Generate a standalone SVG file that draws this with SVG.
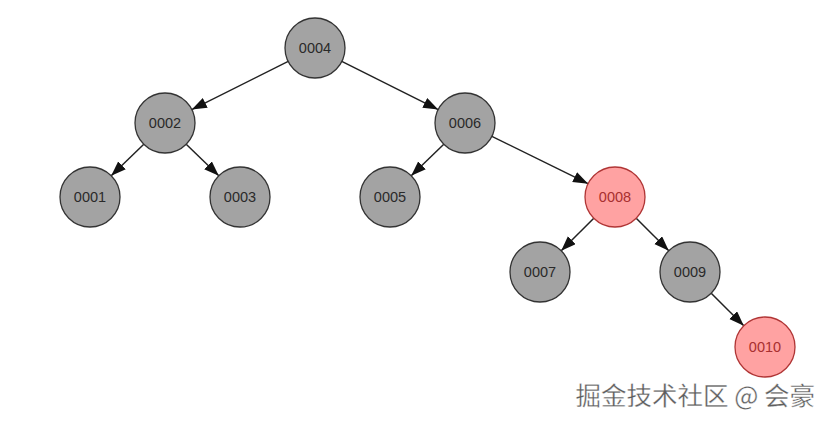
<svg xmlns="http://www.w3.org/2000/svg" width="828" height="424" viewBox="0 0 828 424">
<defs>
<marker id="ah" markerUnits="userSpaceOnUse" markerWidth="17" markerHeight="13" refX="15" refY="5.5" orient="auto">
<path d="M0,0 L15,5.5 L0,11 z" fill="#111"/>
</marker>
</defs>
<style>
.n circle{fill:#a3a3a3;stroke:#333;stroke-width:1.3}
.n text{font-family:"Liberation Sans",Arial,sans-serif;font-size:14.5px;fill:#2a2a2a;text-anchor:middle;dominant-baseline:central}
.r circle{fill:#ffa2a2;stroke:#b03535;stroke-width:1.3}
.r text{font-family:"Liberation Sans",Arial,sans-serif;font-size:14.5px;fill:#a83030;text-anchor:middle;dominant-baseline:central}
#edges line{stroke:#222;stroke-width:1.5;marker-end:url(#ah)}
.wm{font-family:"Noto Sans CJK SC","Liberation Sans",sans-serif;font-size:25.5px;fill:#5e5e5e;stroke:#fff;stroke-width:0.3;text-anchor:end}
</style>
<rect width="828" height="424" fill="#fff"/>
<g id="edges">
<line x1="288.2" y1="61.4" x2="191.8" y2="109.6"/>
<line x1="341.8" y1="61.4" x2="438.2" y2="109.6"/>
<line x1="143.8" y1="144.2" x2="111.2" y2="175.8"/>
<line x1="186.2" y1="144.2" x2="218.8" y2="175.8"/>
<line x1="443.8" y1="144.2" x2="411.2" y2="175.8"/>
<line x1="491.9" y1="136.3" x2="588.1" y2="183.7"/>
<line x1="593.8" y1="218.2" x2="561.2" y2="250.8"/>
<line x1="636.2" y1="218.2" x2="668.8" y2="250.8"/>
<line x1="711.2" y1="293.2" x2="743.8" y2="325.8"/>
</g>
<g id="n0004" class="n"><circle cx="315" cy="48" r="30"/><text x="315" y="48">0004</text></g>
<g id="n0002" class="n"><circle cx="165" cy="123" r="30"/><text x="165" y="123">0002</text></g>
<g id="n0006" class="n"><circle cx="465" cy="123" r="30"/><text x="465" y="123">0006</text></g>
<g id="n0001" class="n"><circle cx="90" cy="197" r="30"/><text x="90" y="197">0001</text></g>
<g id="n0003" class="n"><circle cx="240" cy="197" r="30"/><text x="240" y="197">0003</text></g>
<g id="n0005" class="n"><circle cx="390" cy="197" r="30"/><text x="390" y="197">0005</text></g>
<g id="n0008" class="r"><circle cx="615" cy="197" r="30"/><text x="615" y="197">0008</text></g>
<g id="n0007" class="n"><circle cx="540" cy="272" r="30"/><text x="540" y="272">0007</text></g>
<g id="n0009" class="n"><circle cx="690" cy="272" r="30"/><text x="690" y="272">0009</text></g>
<g id="n0010" class="r"><circle cx="765" cy="347" r="30"/><text x="765" y="347">0010</text></g>
<text class="wm" x="815" y="405">掘金技术社区 @ 会豪</text>
</svg>
